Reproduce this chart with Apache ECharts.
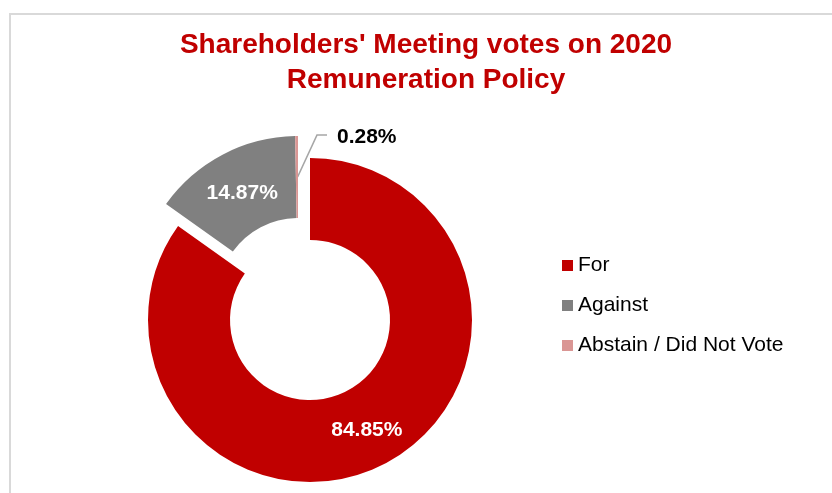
<!DOCTYPE html>
<html lang="en">
<head>
    <meta charset="utf-8"/>
    <title>Shareholders' Meeting votes on 2020 Remuneration Policy</title>
    <script src="https://cdn.jsdelivr.net/npm/echarts@6/dist/echarts.min.js"></script>
    <style>
        html, body { margin: 0; padding: 0; background: #fff; }
        #chartVotes { width: 832px; height: 493px; }
    </style>
</head>
<body>
<div id="chartVotes"></div>
<script>
    // 数据
    var categories = ['For', 'Against', 'Abstain / Did Not Vote'];
    var voteValues = [84.85, 14.87, 0.28];
    var sliceColors = ['#C00000', '#808080', '#DA9694'];

    var FONT = 'Liberation Sans, Arial, sans-serif';

    // rest of the ring, kept invisible
    var blank = function (value) {
        return {
            value: value,
            name: '',
            itemStyle: { color: 'transparent' },
            label: { show: false },
            labelLine: { show: false },
            emphasis: { disabled: true },
            tooltip: { show: false }
        };
    };
    var item = function (i) {
        return {
            value: voteValues[i],
            name: categories[i],
            itemStyle: { color: sliceColors[i] }
        };
    };

    var forData = [item(0), blank(voteValues[1] + voteValues[2])];

    var against = item(1);
    against.label = { offset: [2, 5] };

    var abstain = item(2);
    abstain.label = {
        position: 'outside',
        color: '#000',
        fontSize: 21
    };
    abstain.labelLine = {
        show: true,
        length: 12,
        length2: 10,
        lineStyle: { color: '#A6A6A6', width: 1.6 }
    };
    var restData = [blank(voteValues[0]), against, abstain];

    var baseSeries = {
        type: 'pie',
        radius: [80, 162],
        startAngle: 90,
        clockwise: true,
        avoidLabelOverlap: false,
        silent: true,
        itemStyle: { borderWidth: 0 },
        label: {
            show: true,
            position: 'inside',
            formatter: '{c}%',
            color: '#fff',
            fontFamily: FONT,
            fontWeight: 'bold',
            fontSize: 21
        },
        labelLine: { show: false }
    };

    var chartVotes = echarts.init(document.getElementById('chartVotes'));
    var option = {
        backgroundColor: '#fff',
        animation: false,
        title: {
            text: "Shareholders' Meeting votes on 2020\nRemuneration Policy",
            left: 426,
            top: 28,
            textAlign: 'center',
            padding: 0,
            textStyle: {
                color: '#C00000',
                fontFamily: FONT,
                fontWeight: 'bold',
                fontSize: 28,
                lineHeight: 35
            }
        },
        legend: {
            data: categories,
            orient: 'vertical',
            left: 562,
            top: 255,
            padding: 0,
            itemGap: 19,
            itemWidth: 11,
            itemHeight: 11,
            icon: 'rect',
            selectedMode: false,
            textStyle: {
                color: '#000',
                fontFamily: FONT,
                fontSize: 21,
                lineHeight: 20
            }
        },
        graphic: [{
            type: 'rect',
            silent: true,
            shape: { x: 10, y: 14, width: 840, height: 500 },
            style: { fill: 'none', stroke: '#D9D9D9', lineWidth: 2 }
        }],
        series: [
            Object.assign({}, baseSeries, {
                name: 'ringFor',
                center: [310, 320],
                data: forData
            }),
            Object.assign({}, baseSeries, {
                name: 'ringRest',
                center: [298, 298],
                data: restData,
                labelLayout: function (params) {
                    if (params.dataIndex !== 2) {
                        return {};
                    }
                    // leader from mid-ring up to the label on the right
                    var lx = 337, ly = 137;
                    var p0 = params.labelLinePoints ? params.labelLinePoints[0] : [298, 136];
                    return {
                        x: lx,
                        y: ly,
                        align: 'left',
                        verticalAlign: 'middle',
                        labelLinePoints: [
                            [p0[0] + 1, p0[1] + 41],
                            [lx - 20, ly - 2],
                            [lx - 10, ly - 2]
                        ]
                    };
                }
            })
        ]
    };
    chartVotes.setOption(option);
</script>
</body>
</html>
